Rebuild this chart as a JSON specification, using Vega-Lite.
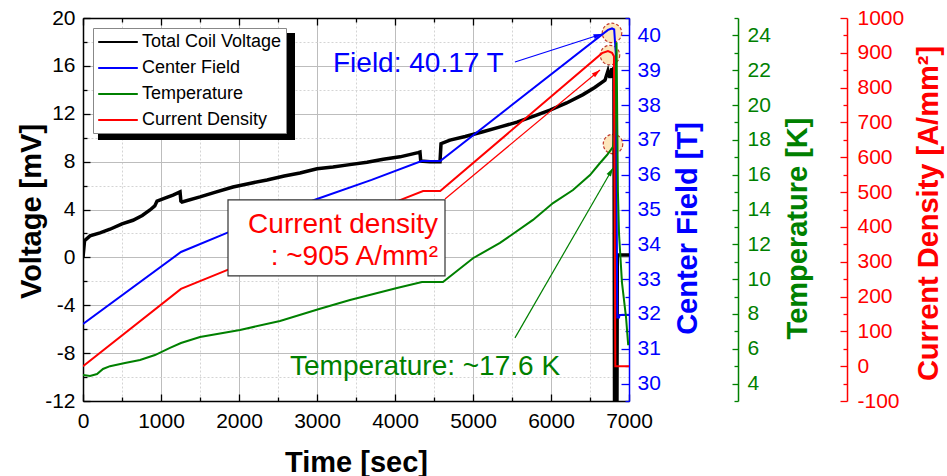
{
  "$schema": "https://vega.github.io/schema/vega-lite/v6.json",
  "width": 546,
  "height": 383,
  "autosize": "none",
  "padding": {"left": 83, "top": 18, "right": 318, "bottom": 75},
  "background": "white",
  "config": {
    "font": "Liberation Sans",
    "view": {"stroke": null},
    "axis": {"labelFont": "Liberation Sans", "titleFont": "Liberation Sans", "labelFontSize": 21, "titleFontSize": 29, "titleFontWeight": "bold", "domainWidth": 1.5, "tickWidth": 1.3, "labelFlush": false, "labelColor": "black", "titleColor": "black", "domainColor": "black", "tickColor": "black", "labelOverlap": false}
  },
  "datasets": {
    "volt": [
      {"t":0,"v":0.0},{"t":20,"v":1.4},{"t":90,"v":1.8},{"t":218,"v":2.05},{"t":346,"v":2.35},{"t":500,"v":2.8},{"t":641,"v":3.1},{"t":760,"v":3.5},{"t":859,"v":3.96},{"t":920,"v":4.3},{"t":949,"v":4.7},{"t":1050,"v":4.95},{"t":1154,"v":5.2},{"t":1244,"v":5.47},{"t":1255,"v":4.7},{"t":1269,"v":4.63},{"t":1500,"v":5.05},{"t":1700,"v":5.45},{"t":1923,"v":5.88},{"t":2150,"v":6.2},{"t":2359,"v":6.47},{"t":2580,"v":6.8},{"t":2782,"v":7.05},{"t":3000,"v":7.4},{"t":3205,"v":7.55},{"t":3420,"v":7.75},{"t":3641,"v":7.95},{"t":3850,"v":8.2},{"t":4064,"v":8.4},{"t":4295,"v":8.75},{"t":4320,"v":8.8},{"t":4330,"v":8.05},{"t":4450,"v":8.0},{"t":4577,"v":8.0},{"t":4590,"v":9.5},{"t":4705,"v":9.8},{"t":4900,"v":10.1},{"t":5128,"v":10.5},{"t":5350,"v":10.9},{"t":5564,"v":11.3},{"t":5780,"v":11.8},{"t":5987,"v":12.3},{"t":6200,"v":12.9},{"t":6410,"v":13.6},{"t":6560,"v":14.2},{"t":6692,"v":14.8},{"t":6731,"v":15.6},{"t":6756,"v":15.0},{"t":6782,"v":15.8},{"t":6795,"v":15.0},{"t":6807,"v":15.9},{"t":6815,"v":-14},{"t":6845,"v":-14},{"t":6850,"v":0.2},{"t":7000,"v":0.2}
    ],
    "field": [
      {"t":0,"b":31.71},{"t":1256,"b":33.78},{"t":1846,"b":34.33},{"t":2400,"b":34.8},{"t":3000,"b":35.3},{"t":3700,"b":35.85},{"t":4340,"b":36.39},{"t":4580,"b":36.39},{"t":6731,"b":40.16},{"t":6782,"b":40.2},{"t":6810,"b":40.17},{"t":6830,"b":39.5},{"t":6850,"b":31.9},{"t":6872,"b":31.9},{"t":6880,"b":31.97},{"t":7000,"b":31.97}
    ],
    "temp": [
      {"t":0,"k":4.49},{"t":90,"k":4.44},{"t":180,"k":4.55},{"t":256,"k":4.84},{"t":346,"k":5.0},{"t":538,"k":5.18},{"t":731,"k":5.36},{"t":923,"k":5.64},{"t":1115,"k":6.05},{"t":1256,"k":6.33},{"t":1500,"k":6.68},{"t":2013,"k":7.08},{"t":2526,"k":7.6},{"t":3038,"k":8.3},{"t":3423,"k":8.8},{"t":4025,"k":9.49},{"t":4346,"k":9.84},{"t":4615,"k":9.84},{"t":5000,"k":11.2},{"t":5346,"k":12.08},{"t":5769,"k":13.4},{"t":6026,"k":14.37},{"t":6282,"k":15.12},{"t":6500,"k":15.98},{"t":6628,"k":16.67},{"t":6718,"k":17.13},{"t":6795,"k":17.6},{"t":6820,"k":18.5},{"t":6840,"k":23.6},{"t":6858,"k":15.0},{"t":6872,"k":12.6},{"t":6910,"k":9.8},{"t":6962,"k":7.8},{"t":6990,"k":6.2}
    ],
    "curr": [
      {"t":0,"j":0},{"t":1256,"j":222},{"t":1846,"j":276},{"t":3000,"j":380},{"t":4064,"j":477},{"t":4360,"j":503},{"t":4580,"j":503},{"t":6654,"j":899},{"t":6730,"j":905},{"t":6782,"j":900},{"t":6807,"j":890},{"t":6825,"j":0},{"t":7000,"j":0}
    ],
    "circles": [{"t":6782,"v":18.75},{"t":6756,"v":16.9},{"t":6795,"v":9.47}],
    "box": [{"t":1859,"t2":4641,"v":4.8,"v2":-1.55}],
    "shadow": [{"t":192,"t2":2718,"v":18.75,"v2":9.81}],
    "txtField": [{"t":3205,"v":15.49,"label":"Field: 40.17 T"}],
    "txtCurr": [{"t":4551,"v":2.04,"label":"Current density"},{"t":4551,"v":-0.63,"label":": ~905 A/mm²"}],
    "txtTemp": [{"t":2654,"v":-9.82,"label":"Temperature: ~17.6 K"}],
    "arrB": [{"t":5538,"v":16.32,"t2":6654,"v2":18.66}],
    "arrR": [{"t":4641,"v":4.88,"t2":6628,"v2":15.66}],
    "arrG": [{"t":5538,"v":-6.73,"t2":6795,"v2":7.47}],
    "leg": [{"series":"Total Coil Voltage","t":0,"v":-20},{"series":"Center Field","t":0,"v":-20},{"series":"Temperature","t":0,"v":-20},{"series":"Current Density","t":0,"v":-20}]
  },
  "layer": [
    {
      "data": {"name": "volt"},
      "mark": {"type": "line", "strokeOpacity": 0},
      "encoding": {
        "x": {"field": "t", "type": "quantitative", "scale": {"domain": [0, 7000], "nice": false, "zero": false},
              "axis": {"orient": "bottom", "values": [500,1500,2500,3500,4500,5500,6500], "labels": false, "domain": false, "tickSize": -4, "grid": true, "gridColor": "#d4d4d4", "gridDash": [2,2], "title": null}},
        "y": {"field": "v", "type": "quantitative", "scale": {"domain": [-12, 20], "nice": false, "zero": false},
              "axis": {"orient": "left", "values": [-10,-6,-2,2,6,10,14,18], "labels": false, "domain": false, "tickSize": -4, "grid": true, "gridColor": "#d4d4d4", "gridDash": [2,2], "title": null}}
      }
    },
    {
      "data": {"name": "circles"},
      "mark": {"type": "point", "shape": "circle", "size": 380, "fill": "#FDE3B5", "fillOpacity": 0.9, "stroke": "#C0392B", "strokeDash": [3,2], "strokeWidth": 1.2, "opacity": 1},
      "encoding": {
        "x": {"field": "t", "type": "quantitative", "scale": {"domain": [0, 7000], "nice": false, "zero": false},
              "axis": {"orient": "bottom", "values": [0,1000,2000,3000,4000,5000,6000,7000], "labelExpr": "'' + datum.value", "tickSize": -7, "labelPadding": 16, "grid": true, "gridColor": "#bdbdbd", "title": "Time [sec]", "titleX": 273, "titleY": 70, "titleBaseline": "alphabetic", "titleAlign": "center"}},
        "y": {"field": "v", "type": "quantitative", "scale": {"domain": [-12, 20], "nice": false, "zero": false},
              "axis": {"orient": "left", "values": [-12,-8,-4,0,4,8,12,16,20], "labelExpr": "'' + datum.value", "tickSize": -7, "labelPadding": 15, "grid": true, "gridColor": "#bdbdbd", "title": "Voltage [mV]", "titleX": -52, "titleY": 193, "titleAngle": 270, "titleBaseline": "middle", "titleAlign": "center"}}
      }
    },
    {
      "data": {"name": "volt"},
      "mark": {"type": "line", "color": "black", "strokeWidth": 3.5, "clip": true},
      "encoding": {
        "x": {"field": "t", "type": "quantitative", "scale": {"domain": [0, 7000], "nice": false, "zero": false}, "axis": null},
        "y": {"field": "v", "type": "quantitative", "scale": {"domain": [-12, 20], "nice": false, "zero": false}, "axis": null}
      }
    },
    {
      "data": {"name": "field"},
      "mark": {"type": "line", "color": "#0000ff", "strokeWidth": 2, "clip": true},
      "encoding": {
        "x": {"field": "t", "type": "quantitative", "scale": {"domain": [0, 7000], "nice": false, "zero": false},
              "axis": {"orient": "top", "values": [0,1000,2000,3000,4000,5000,6000,7000], "labels": false, "tickSize": -7, "grid": false, "title": null}},
        "y": {"field": "b", "type": "quantitative", "scale": {"domain": [29.5, 40.5], "nice": false, "zero": false},
              "axis": {"orient": "right", "values": [30,31,32,33,34,35,36,37,38,39,40], "labelExpr": "'' + datum.value", "tickSize": -8, "labelPadding": 16, "grid": false, "labelColor": "#0000ff", "tickColor": "#0000ff", "domainColor": "#0000ff", "title": "Center Field [T]", "titleColor": "#0000ff", "titleX": 58, "titleY": 210, "titleAngle": 270, "titleBaseline": "middle", "titleAlign": "center"}}
      }
    },
    {
      "data": {"name": "field"},
      "mark": {"type": "line", "strokeOpacity": 0},
      "encoding": {
        "x": {"field": "t", "type": "quantitative", "scale": {"domain": [0, 7000], "nice": false, "zero": false},
              "axis": {"orient": "top", "values": [500,1500,2500,3500,4500,5500,6500], "labels": false, "domain": false, "tickSize": -4, "grid": false, "title": null}},
        "y": {"field": "b", "type": "quantitative", "scale": {"domain": [29.5, 40.5], "nice": false, "zero": false},
              "axis": {"orient": "right", "values": [29.5,30.5,31.5,32.5,33.5,34.5,35.5,36.5,37.5,38.5,39.5,40.5], "labels": false, "domain": false, "tickSize": -4, "tickColor": "#0000ff", "grid": false, "title": null}}
      }
    },
    {
      "data": {"name": "temp"},
      "mark": {"type": "line", "color": "#008000", "strokeWidth": 2, "clip": true},
      "encoding": {
        "x": {"field": "t", "type": "quantitative", "scale": {"domain": [0, 7000], "nice": false, "zero": false}, "axis": null},
        "y": {"field": "k", "type": "quantitative", "scale": {"domain": [3, 25], "nice": false, "zero": false},
              "axis": {"orient": "right", "offset": 109, "values": [4,6,8,10,12,14,16,18,20,22,24], "labelExpr": "'' + datum.value", "tickSize": -6, "labelPadding": 15, "grid": false, "labelColor": "#008000", "tickColor": "#008000", "domainColor": "#008000", "title": "Temperature [K]", "titleColor": "#008000", "titleX": 59, "titleY": 210, "titleAngle": 270, "titleBaseline": "middle", "titleAlign": "center"}}
      }
    },
    {
      "data": {"name": "temp"},
      "mark": {"type": "line", "strokeOpacity": 0},
      "encoding": {
        "x": {"field": "t", "type": "quantitative", "scale": {"domain": [0, 7000], "nice": false, "zero": false}, "axis": null},
        "y": {"field": "k", "type": "quantitative", "scale": {"domain": [3, 25], "nice": false, "zero": false},
              "axis": {"orient": "right", "offset": 109, "values": [3,5,7,9,11,13,15,17,19,21,23,25], "labels": false, "domain": false, "tickSize": -4, "tickColor": "#008000", "grid": false, "title": null}}
      }
    },
    {
      "data": {"name": "curr"},
      "mark": {"type": "line", "color": "#ff0000", "strokeWidth": 2, "clip": true},
      "encoding": {
        "x": {"field": "t", "type": "quantitative", "scale": {"domain": [0, 7000], "nice": false, "zero": false}, "axis": null},
        "y": {"field": "j", "type": "quantitative", "scale": {"domain": [-100, 1000], "nice": false, "zero": false},
              "axis": {"orient": "right", "offset": 218, "values": [-100,0,100,200,300,400,500,600,700,800,900,1000], "labelExpr": "'' + datum.value", "tickSize": -7, "labelPadding": 17, "grid": false, "labelColor": "#ff0000", "tickColor": "#ff0000", "domainColor": "#ff0000", "title": "Current Density [A/mm²]", "titleColor": "#ff0000", "titleX": 81, "titleY": 195, "titleAngle": 270, "titleBaseline": "middle", "titleAlign": "center"}}
      }
    },
    {
      "data": {"name": "curr"},
      "mark": {"type": "line", "strokeOpacity": 0},
      "encoding": {
        "x": {"field": "t", "type": "quantitative", "scale": {"domain": [0, 7000], "nice": false, "zero": false}, "axis": null},
        "y": {"field": "j", "type": "quantitative", "scale": {"domain": [-100, 1000], "nice": false, "zero": false},
              "axis": {"orient": "right", "offset": 218, "values": [-50,50,150,250,350,450,550,650,750,850,950], "labels": false, "domain": false, "tickSize": -4, "tickColor": "#ff0000", "grid": false, "title": null}}
      }
    },
    {
      "data": {"name": "box"},
      "mark": {"type": "rect", "fill": "white", "stroke": "#333333", "strokeWidth": 1.2},
      "encoding": {
        "x": {"field": "t", "type": "quantitative", "scale": {"domain": [0, 7000], "nice": false, "zero": false}, "axis": null},
        "x2": {"field": "t2"},
        "y": {"field": "v", "type": "quantitative", "scale": {"domain": [-12, 20], "nice": false, "zero": false}, "axis": null},
        "y2": {"field": "v2"}
      }
    },
    {
      "data": {"name": "shadow"},
      "mark": {"type": "rect", "fill": "black"},
      "encoding": {
        "x": {"field": "t", "type": "quantitative", "scale": {"domain": [0, 7000], "nice": false, "zero": false}, "axis": null},
        "x2": {"field": "t2"},
        "y": {"field": "v", "type": "quantitative", "scale": {"domain": [-12, 20], "nice": false, "zero": false}, "axis": null},
        "y2": {"field": "v2"}
      }
    },
    {
      "data": {"name": "txtField"},
      "mark": {"type": "text", "color": "#0000ff", "fontSize": 28, "font": "Liberation Sans", "align": "left", "baseline": "alphabetic"},
      "encoding": {
        "x": {"field": "t", "type": "quantitative", "scale": {"domain": [0, 7000], "nice": false, "zero": false}, "axis": null},
        "y": {"field": "v", "type": "quantitative", "scale": {"domain": [-12, 20], "nice": false, "zero": false}, "axis": null},
        "text": {"field": "label"}
      }
    },
    {
      "data": {"name": "txtCurr"},
      "mark": {"type": "text", "color": "#ff0000", "fontSize": 28, "font": "Liberation Sans", "align": "right", "baseline": "alphabetic"},
      "encoding": {
        "x": {"field": "t", "type": "quantitative", "scale": {"domain": [0, 7000], "nice": false, "zero": false}, "axis": null},
        "y": {"field": "v", "type": "quantitative", "scale": {"domain": [-12, 20], "nice": false, "zero": false}, "axis": null},
        "text": {"field": "label"}
      }
    },
    {
      "data": {"name": "txtTemp"},
      "mark": {"type": "text", "color": "#008000", "fontSize": 28, "font": "Liberation Sans", "align": "left", "baseline": "alphabetic"},
      "encoding": {
        "x": {"field": "t", "type": "quantitative", "scale": {"domain": [0, 7000], "nice": false, "zero": false}, "axis": null},
        "y": {"field": "v", "type": "quantitative", "scale": {"domain": [-12, 20], "nice": false, "zero": false}, "axis": null},
        "text": {"field": "label"}
      }
    },
    {
      "data": {"name": "arrB"},
      "mark": {"type": "rule", "color": "#0000ff", "strokeWidth": 1.2},
      "encoding": {
        "x": {"field": "t", "type": "quantitative", "scale": {"domain": [0, 7000], "nice": false, "zero": false}, "axis": null},
        "x2": {"field": "t2"},
        "y": {"field": "v", "type": "quantitative", "scale": {"domain": [-12, 20], "nice": false, "zero": false}, "axis": null},
        "y2": {"field": "v2"}
      }
    },
    {
      "data": {"name": "arrR"},
      "mark": {"type": "rule", "color": "#ff0000", "strokeWidth": 1.2},
      "encoding": {
        "x": {"field": "t", "type": "quantitative", "scale": {"domain": [0, 7000], "nice": false, "zero": false}, "axis": null},
        "x2": {"field": "t2"},
        "y": {"field": "v", "type": "quantitative", "scale": {"domain": [-12, 20], "nice": false, "zero": false}, "axis": null},
        "y2": {"field": "v2"}
      }
    },
    {
      "data": {"name": "arrG"},
      "mark": {"type": "rule", "color": "#008000", "strokeWidth": 1.2},
      "encoding": {
        "x": {"field": "t", "type": "quantitative", "scale": {"domain": [0, 7000], "nice": false, "zero": false}, "axis": null},
        "x2": {"field": "t2"},
        "y": {"field": "v", "type": "quantitative", "scale": {"domain": [-12, 20], "nice": false, "zero": false}, "axis": null},
        "y2": {"field": "v2"}
      }
    },
    {
      "data": {"name": "arrB"},
      "mark": {"type": "point", "shape": "M0,0L-0.3,1L0.3,1Z", "size": 289, "filled": true, "color": "#0000ff", "opacity": 1, "angle": 72},
      "encoding": {
        "x": {"field": "t2", "type": "quantitative", "scale": {"domain": [0, 7000], "nice": false, "zero": false}, "axis": null},
        "y": {"field": "v2", "type": "quantitative", "scale": {"domain": [-12, 20], "nice": false, "zero": false}, "axis": null}
      }
    },
    {
      "data": {"name": "arrR"},
      "mark": {"type": "point", "shape": "M0,0L-0.3,1L0.3,1Z", "size": 289, "filled": true, "color": "#ff0000", "opacity": 1, "angle": 50},
      "encoding": {
        "x": {"field": "t2", "type": "quantitative", "scale": {"domain": [0, 7000], "nice": false, "zero": false}, "axis": null},
        "y": {"field": "v2", "type": "quantitative", "scale": {"domain": [-12, 20], "nice": false, "zero": false}, "axis": null}
      }
    },
    {
      "data": {"name": "arrG"},
      "mark": {"type": "point", "shape": "M0,0L-0.3,1L0.3,1Z", "size": 289, "filled": true, "color": "#008000", "opacity": 1, "angle": 30},
      "encoding": {
        "x": {"field": "t2", "type": "quantitative", "scale": {"domain": [0, 7000], "nice": false, "zero": false}, "axis": null},
        "y": {"field": "v2", "type": "quantitative", "scale": {"domain": [-12, 20], "nice": false, "zero": false}, "axis": null}
      }
    },
    {
      "data": {"name": "leg"},
      "mark": {"type": "line", "opacity": 0, "strokeWidth": 2},
      "encoding": {
        "x": {"field": "t", "type": "quantitative", "scale": {"domain": [0, 7000], "nice": false, "zero": false}, "axis": null},
        "y": {"field": "v", "type": "quantitative", "scale": {"domain": [-12, 20], "nice": false, "zero": false}, "axis": null},
        "color": {"field": "series", "type": "nominal",
          "scale": {"domain": ["Total Coil Voltage", "Center Field", "Temperature", "Current Density"], "range": ["#000000", "#0000ff", "#008000", "#ff0000"]},
          "legend": {"title": null, "orient": "none", "legendX": 10, "legendY": 10, "symbolType": "M-2.2,0L2.2,0", "symbolStrokeWidth": 2, "symbolSize": 324, "symbolOffset": 11, "symbolOpacity": 1, "labelFontSize": 18, "labelFont": "Liberation Sans", "labelColor": "black", "fillColor": "white", "strokeColor": "#888888", "padding": 4, "rowPadding": 7, "labelOffset": 14}}
      }
    }
  ],
  "resolve": {"scale": {"x": "independent", "y": "independent", "color": "independent"}, "axis": {"x": "independent", "y": "independent"}}
}
